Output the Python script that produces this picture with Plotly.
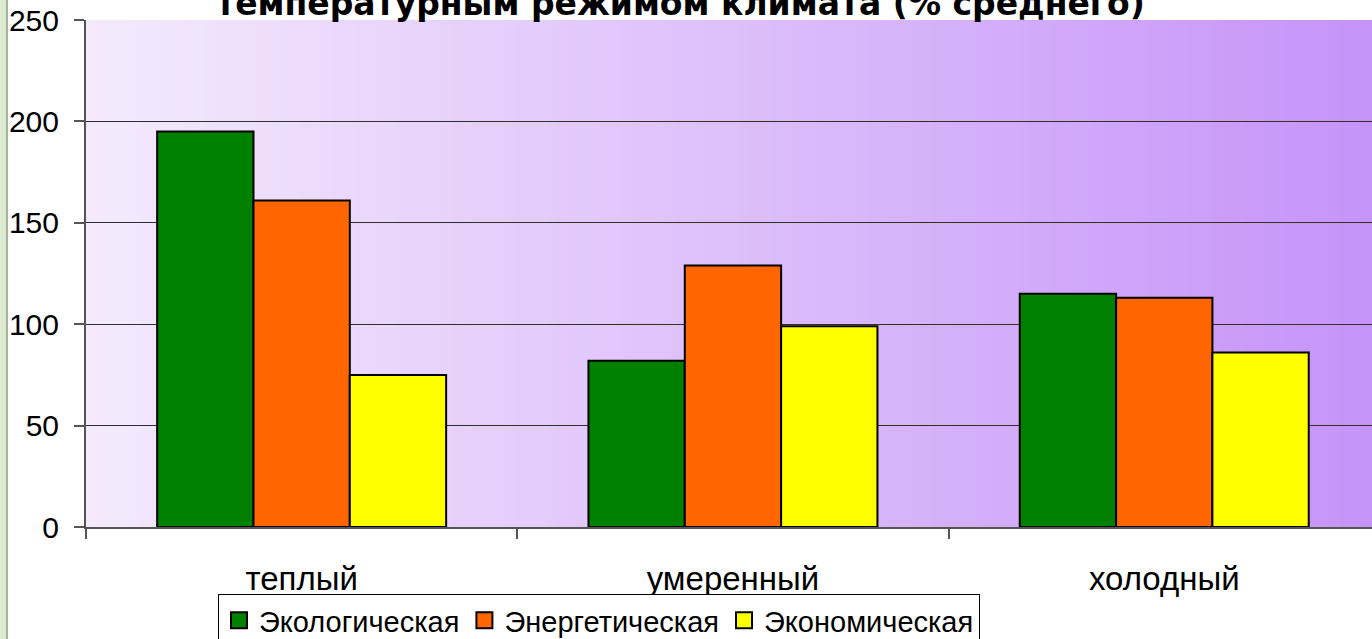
import plotly.graph_objects as go

categories = ["теплый", "умеренный", "холодный"]
series_names = ["Экологическая", "Энергетическая", "Экономическая"]
eco_values = [195, 82, 115]
energy_values = [161, 129, 113]
econ_values = [75, 99, 86]
series_values = [eco_values, energy_values, econ_values]
series_colors = ["#008000", "#FF6600", "#FFFF00"]
y_ticks = [0, 50, 100, 150, 200, 250]
title_text = "температурным режимом климата (% среднего)"

W, H = 1372, 639
L, R, T, B = 86, 0, 20, 112
pw = W - L - R
ph = H - T - B
cat_px = 431.3  # one category band; plot area runs past the right edge

fig = go.Figure()
for name, vals, col in zip(series_names, series_values, series_colors):
    fig.add_trace(go.Bar(
        x=categories, y=vals, name=name,
        marker=dict(color=col, line=dict(color="black", width=2)),
        showlegend=False,
    ))
for name, col in zip(series_names, series_colors):
    fig.add_trace(go.Scatter(
        x=[None], y=[None], mode="markers", name=name,
        marker=dict(symbol="square", size=16, color=col,
                    line=dict(color="black", width=2)),
    ))

# gradient background strips
shapes = []
n = 120
c0 = (244, 234, 252)
c1 = (198, 148, 249)
for i in range(n):
    t = i / (n - 1)
    c = tuple(round(a + (b - a) * t) for a, b in zip(c0, c1))
    shapes.append(dict(
        type="rect", xref="x domain", yref="y domain",
        x0=i / n, x1=(i + 1) / n + 0.002, y0=0, y1=1,
        fillcolor="rgb(%d,%d,%d)" % c, line=dict(width=0), layer="below",
    ))
# slide edge strip at left (page x 0..7)
shapes.append(dict(
    type="rect", xref="paper", yref="paper",
    x0=(-L) / pw, x1=(7 - L) / pw, y0=-(B + 10) / ph, y1=(ph + T + 10) / ph,
    fillcolor="#dcebcf", line=dict(width=0), layer="below",
))
shapes.append(dict(
    type="line", xref="paper", yref="paper",
    x0=(7 - L) / pw, x1=(7 - L) / pw, y0=-(B + 10) / ph, y1=(ph + T + 10) / ph,
    line=dict(color="#8a9a84", width=1.5), layer="below",
))

fig.update_layout(
    width=W, height=H,
    margin=dict(l=L, r=R, t=T, b=B, autoexpand=False),
    paper_bgcolor="white",
    plot_bgcolor="rgba(0,0,0,0)",
    barmode="group",
    bargap=0.33,
    bargroupgap=0,
    shapes=shapes,
    font=dict(family="Liberation Sans, Arial, sans-serif", color="black"),
    showlegend=True,
    legend=dict(
        orientation="h",
        x=(218 - L) / pw, xanchor="left",
        y=(527 - 594) / ph, yanchor="top",
        bgcolor="white", bordercolor="black", borderwidth=1,
        font=dict(size=29, family="Liberation Sans, Arial, sans-serif"),
        itemsizing="trace",
        tracegroupgap=0,
    ),
    annotations=[dict(
        text="<b>" + title_text + "</b>",
        xref="paper", yref="paper", x=(680 - L) / pw, y=1,
        xanchor="center", yanchor="bottom", yshift=-5, showarrow=False,
        font=dict(size=33, family="DejaVu Sans, sans-serif", color="black"),
    )],
)

fig.update_xaxes(
    type="category", categoryorder="array", categoryarray=categories,
    range=[-0.5, -0.5 + pw / cat_px],
    tickson="boundaries", ticks="outside", ticklen=10, tickwidth=1.5,
    tickcolor="#555555",
    showline=True, linecolor="#555555", linewidth=2,
    showgrid=False, zeroline=False,
    tickfont=dict(size=33),
    ticklabelstandoff=21,
    ticklabeloverflow="allow",
    automargin=False,
)
fig.update_yaxes(
    range=[0, 250], tickvals=y_ticks,
    ticks="outside", ticklen=10, tickwidth=1.5, tickcolor="#555555",
    showline=True, linecolor="#555555", linewidth=2,
    showgrid=True, gridcolor="#303030", gridwidth=1,
    zeroline=False,
    tickfont=dict(size=30),
    ticklabelstandoff=9,
    ticklabeloverflow="allow",
    automargin=False,
)

fig.write_html(
    "out.html",
    config={"displayModeBar": False},
    post_script="document.body.style.margin='0';document.body.style.overflow='hidden';",
)
